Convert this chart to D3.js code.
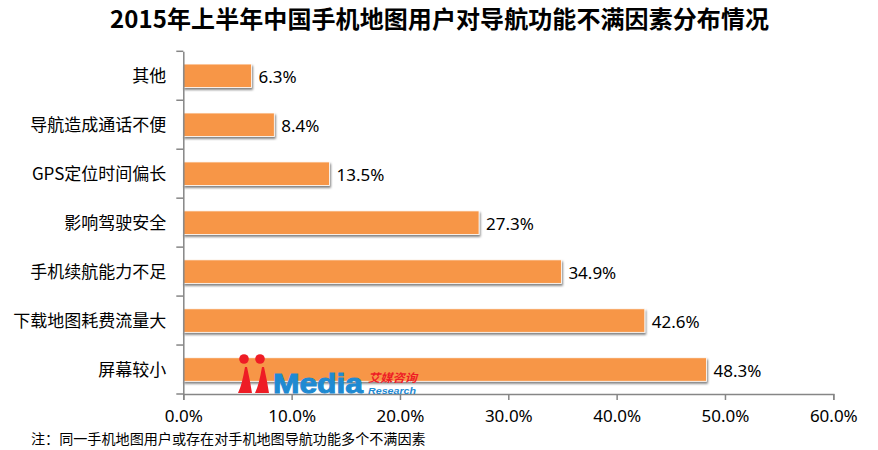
<!DOCTYPE html>
<html>
<head>
<meta charset="utf-8">
<script src="https://cdn.jsdelivr.net/npm/d3@7"></script>
<style>
  html, body { margin: 0; padding: 0; background: #fff; }
  svg { display: block; }
  text { font-family: "Noto Sans CJK SC", "Noto Sans", sans-serif; fill: #000; }
  .num { font-family: "Noto Sans", "Noto Sans CJK SC", sans-serif; }
</style>
</head>
<body>
<svg id="chart" width="878" height="450"></svg>
<script>
var titleText = '2015年上半年中国手机地图用户对导航功能不满因素分布情况';
var noteText = '注：同一手机地图用户或存在对手机地图导航功能多个不满因素';
var categories = ['其他', '导航造成通话不便', 'GPS定位时间偏长', '影响驾驶安全', '手机续航能力不足', '下载地图耗费流量大', '屏幕较小'];
var values = [6.3, 8.4, 13.5, 27.3, 34.9, 42.6, 48.3];
var xTicks = [0, 10, 20, 30, 40, 50, 60];

var svg = d3.select('#chart');
var margin = {top: 51.3, left: 183.3, right: 44.7, bottom: 56};
var width = 878 - margin.left - margin.right;
var height = 450 - margin.top - margin.bottom;

var defs = svg.append('defs');
var shadow = defs.append('filter').attr('id', 'barShadow')
  .attr('x', '-5%').attr('y', '-20%').attr('width', '110%').attr('height', '150%');
shadow.append('feDropShadow')
  .attr('dx', 1).attr('dy', 2).attr('stdDeviation', 1.2)
  .attr('flood-color', '#000').attr('flood-opacity', 0.5);

svg.append('text')
  .attr('x', 110).attr('y', 28)
  .attr('textLength', 659)
  .style('font-size', '24px').style('font-weight', 700)
  .text(titleText);

var g = svg.append('g')
  .attr('transform', 'translate(' + margin.left + ',' + margin.top + ')');

var x = d3.scaleLinear().domain([0, 60]).range([0, width]);
var y = d3.scaleBand().domain(categories).range([0, height]).paddingInner(0.52).paddingOuter(0.26);

// bars
g.selectAll('.bar')
  .data(values)
  .enter()
  .append('rect')
  .attr('class', 'bar')
  .attr('x', 0)
  .attr('y', function (d, i) { return y(categories[i]); })
  .attr('width', function (d) { return x(d); })
  .attr('height', y.bandwidth())
  .attr('fill', '#f79646')
  .attr('stroke', '#fff')
  .attr('stroke-width', 0.8)
  .attr('filter', 'url(#barShadow)');

g.selectAll('.value')
  .data(values)
  .enter()
  .append('text')
  .attr('class', 'value num')
  .attr('x', function (d) { return x(d) + 7; })
  .attr('y', function (d, i) { return y(categories[i]) + y.bandwidth() / 2 + 7; })
  .style('font-size', '17px')
  .text(function (d) { return d.toFixed(1) + '%'; });

// axes
var xAxis = g.append('g')
  .attr('transform', 'translate(0,' + height + ')')
  .call(d3.axisBottom(x).tickValues(xTicks).tickSize(6).tickPadding(10)
    .tickFormat(function (d) { return d.toFixed(1) + '%'; }));
xAxis.selectAll('text').attr('class', 'num').style('font-size', '17px').style('font-family', null);

var yOuter = d3.scaleBand().domain(categories).range([0, height]);
var yAxis = g.append('g')
  .call(d3.axisLeft(yOuter).tickSize(0).tickPadding(17));
yAxis.selectAll('text').attr('dy', '0.38em').style('font-size', '17px').style('font-family', null);
yAxis.selectAll('.tick line').remove();
yAxis.selectAll('.ytick')
  .data(d3.range(categories.length + 1))
  .enter()
  .append('line')
  .attr('x1', -7).attr('x2', 0)
  .attr('y1', function (d) { return d * yOuter.step(); })
  .attr('y2', function (d) { return d * yOuter.step(); });

g.selectAll('.domain, .tick line').attr('stroke', '#868686').attr('stroke-width', 1.5);
yAxis.selectAll('line').attr('stroke', '#868686').attr('stroke-width', 1.5);

// note
svg.append('text')
  .attr('x', 31).attr('y', 444)
  .style('font-size', '14.1px')
  .text(noteText);

// iiMedia logo
var logo = svg.append('g');
logo.selectAll('circle').data([244, 260]).enter().append('circle')
  .attr('cx', function (d) { return d; }).attr('cy', 359).attr('r', 4.8).attr('fill', '#ee1c25');
logo.selectAll('path').data([238, 255]).enter().append('path')
  .attr('d', function (d) { return 'M' + (d + 7) + ' 367Q' + (d + 4) + ' 385 ' + d + ' 393H' + (d + 14) + 'Q' + (d + 12) + ' 380 ' + (d + 9) + ' 367Z'; })
  .attr('fill', '#ee1c25');
logo.append('text')
  .attr('x', 273).attr('y', 393)
  .style('font-family', '"Liberation Sans", sans-serif')
  .style('font-size', '28px').style('font-weight', 700)
  .style('fill', '#1f8ad2')
  .style('stroke', '#1f8ad2').style('stroke-width', 1)
  .attr('textLength', 90)
  .attr('lengthAdjust', 'spacingAndGlyphs')
  .text('Media');
logo.append('text')
  .attr('x', 368).attr('y', 382)
  .style('font-size', '11.5px').style('font-weight', 700).style('font-style', 'italic')
  .style('fill', '#ee1c25')
  .attr('textLength', 49)
  .attr('lengthAdjust', 'spacingAndGlyphs')
  .text('艾媒咨询');
logo.append('text')
  .attr('x', 368).attr('y', 394)
  .style('font-family', '"Liberation Sans", sans-serif')
  .style('font-size', '9.5px').style('font-weight', 700).style('font-style', 'italic')
  .style('fill', '#1f8ad2')
  .attr('textLength', 48)
  .attr('lengthAdjust', 'spacingAndGlyphs')
  .text('Research');
</script>
</body>
</html>
